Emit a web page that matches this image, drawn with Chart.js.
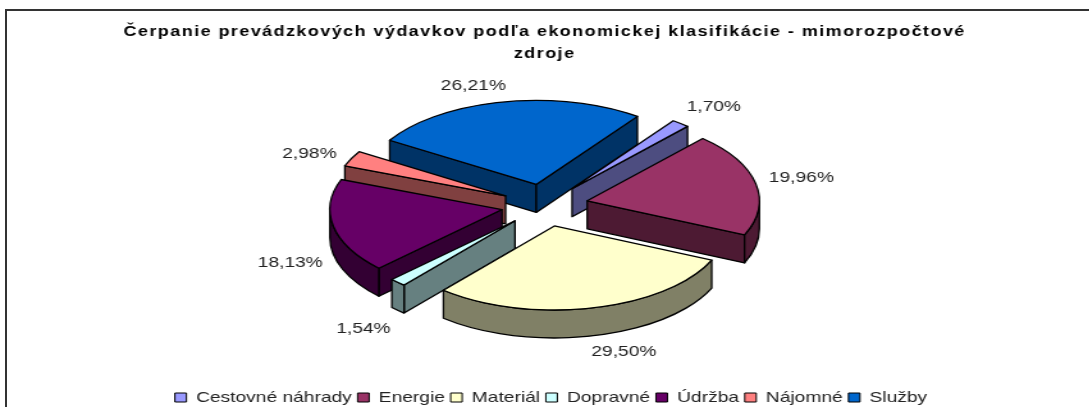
<!DOCTYPE html>
<html>
<head>
<meta charset="utf-8">
<style>
  html, body { margin: 0; padding: 0; background: #fff; overflow: hidden; width: 1089px; height: 407px; }
  #frame { position: absolute; left: 5px; top: 9px; width: 1084px; height: 398px; border-left: 2px solid #333; border-top: 2px solid #333; box-sizing: border-box; }
  canvas { position: absolute; left: 0; top: 0; transform-origin: 0 0; transform: scaleX(1.28); }
</style>
<script src="https://cdn.jsdelivr.net/npm/chart.js@4"></script>
</head>
<body>
<div id="frame"></div>
<canvas id="chart" width="851" height="415"></canvas>
<script>
const titleLines = ['Čerpanie prevádzkových výdavkov podľa ekonomickej klasifikácie - mimorozpočtové', 'zdroje'];
const categories = ['Cestovné náhrady', 'Energie', 'Materiál', 'Dopravné', 'Údržba', 'Nájomné', 'Služby'];
const shares = [1.70, 19.96, 29.50, 1.54, 18.13, 2.98, 26.21];

const topColors = ['#9999FF', '#993366', '#FFFFCC', '#CCFFFF', '#660066', '#FF8080', '#0066CC'];
const wallColors = ['#4D4D80', '#4D1A33', '#808066', '#668080', '#330033', '#804040', '#003366'];

// pie look, in canvas pixels
const tilt = 0.625;
const depth = 28;
const explode = 34;
const liftY = -20;
const labelRadius = 205;
// small hand nudges for the percent labels
const labelNudge = [[3, 1], [0, -1], [16, -6], [-2, 9], [2, 26], [0, 5], [-16, 6]];

const pie3d = {
  id: 'pie3d',
  afterInit(chart) {
    // the title is set wider than the rest of the text
    const block = chart.titleBlock;
    const drawTitle = block.draw.bind(block);
    block.draw = () => {
      chart.ctx.letterSpacing = '1.15px';
      drawTitle();
      chart.ctx.letterSpacing = '0px';
    };
    // legend sits a bit right of the centre
    const legend = chart.legend;
    const drawLegend = legend.draw.bind(legend);
    legend.draw = () => {
      chart.ctx.save();
      chart.ctx.translate(5, 0);
      drawLegend();
      chart.ctx.restore();
    };
  },
  beforeDatasetsDraw(chart) {
    const ctx = chart.ctx;
    const arcs = chart.getDatasetMeta(0).data;

    const slices = arcs.map((arc, i) => {
      const mid = (arc.startAngle + arc.endAngle) / 2;
      return {
        i, arc,
        cx: arc.x + Math.cos(mid) * explode,
        cy: arc.y + liftY + Math.sin(mid) * explode * tilt
      };
    });
    // back slices first
    slices.sort((a, b) => a.cy - b.cy);

    ctx.save();
    ctx.lineWidth = 1.3;
    ctx.strokeStyle = '#000';
    ctx.lineJoin = 'round';
    slices.forEach(s => drawSlice(ctx, s));
    ctx.restore();

    // percent labels
    ctx.save();
    ctx.font = '15px "Liberation Sans"';
    ctx.fillStyle = '#222';
    ctx.textAlign = 'center';
    ctx.textBaseline = 'middle';
    arcs.forEach((arc, i) => {
      const mid = (arc.startAngle + arc.endAngle) / 2;
      const down = Math.sin(mid) > 0 ? depth * Math.sin(mid) : 0;
      const x = arc.x + Math.cos(mid) * labelRadius + labelNudge[i][0];
      const y = arc.y + liftY + Math.sin(mid) * labelRadius * tilt + down + labelNudge[i][1];
      ctx.fillText(shares[i].toFixed(2).replace('.', ',') + '%', x, y);
    });
    ctx.restore();
    return false;
  }
};

function drawSlice(ctx, s) {
  const { arc, cx, cy, i } = s;
  const r = arc.outerRadius;
  const a0 = arc.startAngle, a1 = arc.endAngle;
  const p0 = [cx + Math.cos(a0) * r, cy + Math.sin(a0) * r * tilt];
  const p1 = [cx + Math.cos(a1) * r, cy + Math.sin(a1) * r * tilt];

  ctx.fillStyle = wallColors[i];
  // flat cut walls, only the ones facing us
  if (p0[0] < cx) wall(ctx, [cx, cy], p0);
  if (p1[0] > cx) wall(ctx, [cx, cy], p1);
  // round rim, front half only
  for (let k = -1; k <= 1; k++) {
    const from = Math.max(a0, k * 2 * Math.PI);
    const to = Math.min(a1, k * 2 * Math.PI + Math.PI);
    if (to > from) {
      ctx.beginPath();
      ctx.ellipse(cx, cy, r, r * tilt, 0, from, to);
      ctx.ellipse(cx, cy + depth, r, r * tilt, 0, to, from, true);
      ctx.closePath();
      ctx.fill();
      ctx.stroke();
    }
  }
  // top
  ctx.fillStyle = topColors[i];
  ctx.beginPath();
  ctx.moveTo(cx, cy);
  ctx.ellipse(cx, cy, r, r * tilt, 0, a0, a1);
  ctx.closePath();
  ctx.fill();
  ctx.stroke();
}

function wall(ctx, a, b) {
  ctx.beginPath();
  ctx.moveTo(a[0], a[1]);
  ctx.lineTo(b[0], b[1]);
  ctx.lineTo(b[0], b[1] + depth);
  ctx.lineTo(a[0], a[1] + depth);
  ctx.closePath();
  ctx.fill();
  ctx.stroke();
}

new Chart(document.getElementById('chart'), {
  type: 'pie',
  data: {
    labels: categories,
    datasets: [{
      data: shares,
      backgroundColor: topColors,
      borderColor: '#000',
      borderWidth: 1
    }]
  },
  options: {
    responsive: false,
    animation: false,
    rotation: 36,
    radius: 134.5,
    plugins: {
      tooltip: { enabled: false },
      title: {
        display: true,
        text: titleLines,
        color: '#000',
        font: { family: '"Liberation Sans"', size: 14, weight: 'bold', lineHeight: 1.57 },
        padding: { top: 21, bottom: 0 }
      },
      legend: {
        position: 'bottom',
        labels: {
          color: '#222',
          font: { family: '"Liberation Sans"', size: 15 },
          boxWidth: 9,
          boxHeight: 9,
          padding: 4.5
        }
      }
    }
  },
  plugins: [pie3d]
});
</script>
</body>
</html>
